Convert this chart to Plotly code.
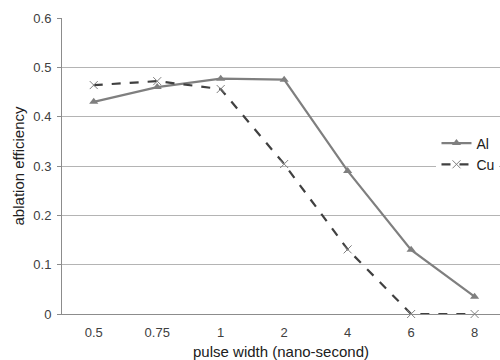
import plotly.graph_objects as go

categories = ["0.5", "0.75", "1", "2", "4", "6", "8"]
al_values = [0.43, 0.46, 0.477, 0.475, 0.29, 0.13, 0.035]
cu_values = [0.464, 0.472, 0.456, 0.304, 0.131, 0.0, 0.0]
y_ticks = [0, 0.1, 0.2, 0.3, 0.4, 0.5, 0.6]
y_tick_labels = ["0", "0.1", "0.2", "0.3", "0.4", "0.5", "0.6"]

fig = go.Figure()
fig.add_trace(go.Scatter(
    x=categories, y=al_values, name="Al", mode="lines+markers",
    line=dict(color="#7f7f7f", width=2.2),
    marker=dict(symbol="triangle-up", size=8, color="#7f7f7f"),
    cliponaxis=False,
))
fig.add_trace(go.Scatter(
    x=categories, y=cu_values, name="Cu", mode="lines+markers",
    line=dict(color="#404040", width=2.2, dash="dash"),
    marker=dict(symbol="x-thin", size=8, line=dict(color="#7f7f7f", width=1)),
    cliponaxis=False,
))

fig.update_layout(
    width=500, height=360,
    margin=dict(l=62, r=0, t=18, b=46, autoexpand=False),
    paper_bgcolor="white", plot_bgcolor="white",
    font=dict(family="Liberation Sans, Arial, sans-serif", size=13, color="#404040"),
    legend=dict(
        x=0.855, y=0.63, xanchor="left", yanchor="top",
        bgcolor="white", font=dict(size=14, color="#202020"),
        itemwidth=30, tracegroupgap=0,
    ),
    xaxis=dict(
        type="category", range=[-0.5, 6.4], automargin=False,
        showline=True, linecolor="#8c8c8c", linewidth=1,
        showgrid=False, ticks="", ticklabelstandoff=6,
        tickfont=dict(size=13, color="#404040"),
        title=dict(text="pulse width (nano-second)", font=dict(size=15, color="#202020"), standoff=13),
    ),
    yaxis=dict(
        range=[0, 0.6], tickvals=y_ticks, ticktext=y_tick_labels, automargin=False,
        showline=True, linecolor="#8c8c8c", linewidth=1,
        showgrid=True, gridcolor="#b4b4b4", gridwidth=1,
        ticks="outside", ticklen=4, tickcolor="#8c8c8c", ticklabelstandoff=3,
        tickfont=dict(size=13, color="#404040"),
        zeroline=False,
        title=dict(text="ablation efficiency", font=dict(size=15, color="#202020"), standoff=5),
    ),
)

fig.write_html("out.html", post_script="document.body.style.margin='0';",
               config={"displayModeBar": False})
